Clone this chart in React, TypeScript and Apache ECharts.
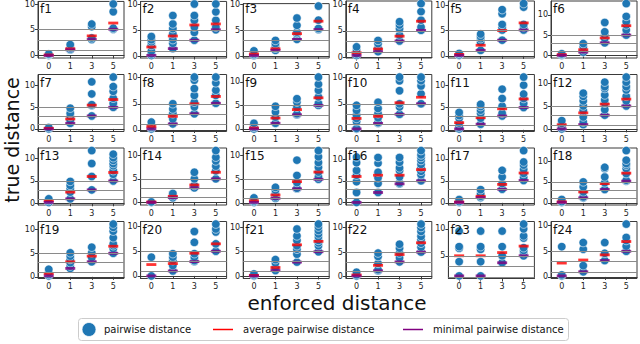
import { useEffect, useRef } from 'react';
import * as echarts from 'echarts';

const categories = ['0', '1', '3', '5'];
const panelNames = ['f1','f2','f3','f4','f5','f6','f7','f8','f9','f10','f11','f12','f13','f14','f15','f16','f17','f18','f19','f20','f21','f22','f23','f24'];
const yTicks = [0, 5, 10];
const enforcedLines = [1, 3, 5];

const pairwiseF1 = [[0, 0.1, 0.2, 0.3], [1.1, 1.2, 1.5, 2.1], [3.1, 3.4, 5.6, 6.1], [5.1, 5.3, 8.5, 10.0]];
const pairwiseF2 = [[0.2, 0.5, 1.0, 2.1, 2.8, 3.2, 3.8], [1.5, 2.5, 3.2, 4.3, 5.3, 6.2, 7.8], [3.1, 4.6, 5.6, 6.9, 7.8, 10.0], [5.1, 5.6, 6.9, 8.5, 10.0]];
const pairwiseF3 = [[0.1, 0.3, 0.6, 1.0], [1.1, 1.5, 2.0, 2.4, 3.0], [3.2, 4.3, 4.6, 5.9, 7.3], [5.1, 5.3, 6.9, 9.6]];
const pairwiseF4 = [[0.4, 0.7, 1.4, 2.0], [1.1, 1.7, 2.6, 3.2], [3.1, 4.2, 5.4, 6.1, 6.7], [5.1, 5.7, 7.0, 8.6, 10.1]];
const pairwiseF5 = [[0.1, 0.2, 0.5], [1.1, 2.7, 3.4, 3.8, 4.3], [3.1, 5.1, 5.6, 6.2, 8.3, 9.1], [5.1, 5.7, 6.2, 9.6, 10.3]];
const pairwiseF6 = [[0, 0.2, 0.4], [0.8, 1.4, 2.1, 2.9], [3.1, 4.2, 5.0, 5.8, 8.1], [5.0, 6.25, 7.5, 8.3, 9.6, 12.75]];
const pairwiseF7 = [[0, 0.3], [1.3, 2.0, 2.9, 3.6, 4.8], [3.0, 5.4, 5.6, 8.1, 10.9], [5.0, 5.9, 7.1, 8.7, 9.8, 12.0]];
const pairwiseF8 = [[0.2, 0.5, 0.8, 1.5], [1.15, 2.1, 3.1, 4.0, 5.0], [3.1, 4.4, 5.3, 6.6, 7.9, 9.5, 10.1], [5.1, 6.6, 7.6, 9.0, 10.1]];
const pairwiseF9 = [[0, 0.35, 0.7, 1.2], [1.2, 2.5, 3.6, 4.8], [3.0, 3.2, 4.6, 5.7, 6.4], [5.0, 5.4, 6.8, 8.2, 9.5, 11.0]];
const pairwiseF10 = [[0.2, 0.3, 1.6, 2.2, 2.8, 3.75, 4.7], [1.25, 1.4, 2.3, 3.1, 4.1, 5.3], [3.0, 4.4, 5.0, 7.5, 9.4, 10.1], [5.0, 6.9, 8.4, 9.4, 10.1]];
const pairwiseF11 = [[0.2, 0.6, 1.5, 2.6, 3.2, 3.9], [1.25, 2.6, 3.7, 4.4, 5.2, 5.7], [3.1, 3.7, 5.3, 7.0, 9.1], [5.0, 5.9, 7.0, 8.0, 10.0, 11.8]];
const pairwiseF12 = [[0.1, 0.5, 1.3, 1.9], [1.05, 1.6, 2.7, 4.1, 5.1, 6.2, 7.2, 7.9], [3.1, 4.3, 5.7, 6.4, 7.5, 8.9, 9.3, 10.3], [5.1, 6.2, 7.2, 8.6, 9.3, 10.3, 11.4]];
const pairwiseF13 = [[0.2, 0.6, 1.0], [1.0, 2.5, 3.3, 4.0, 4.9], [3.0, 6.0, 8.9, 11.8], [5.0, 6.5, 7.3, 8.4, 8.9, 9.6, 10.2, 11.0]];
const pairwiseF14 = [[0, 0.1], [1.0, 1.4, 1.9], [3.1, 3.6, 5.0, 6.4], [5.0, 6.7, 7.7, 8.8, 9.6, 11.0]];
const pairwiseF15 = [[0.15, 0.4, 0.7, 1.1], [1.0, 1.3, 2.0, 2.7, 3.3], [3.0, 3.1, 4.3, 5.8, 9.0], [5.0, 5.5, 6.5, 7.5, 8.5, 9.7, 11.0]];
const pairwiseF16 = [[0, 2.3, 4.8, 6.3, 7.4, 9.2, 10.5], [2.3, 4.4, 5.7, 7.0, 9.1, 10.4], [4.3, 4.5, 5.9, 7.4, 8.0, 9.3, 10.4], [5.0, 6.4, 7.2, 8.0, 8.8, 9.7, 10.4, 11.0, 12.0]];
const pairwiseF17 = [[0.1, 0.3, 0.75], [1.2, 1.5, 2.1, 3.0], [3.1, 4.4, 5.9, 7.4], [5.1, 5.8, 6.7, 7.6, 8.6, 9.3, 11.9]];
const pairwiseF18 = [[0.1, 0.3, 0.8], [1.2, 1.4, 2.6, 3.8, 5.0], [3.2, 4.8, 6.2, 8.2, 8.5], [5.2, 5.4, 7.0, 8.2, 9.0, 9.4, 10.2, 12.5]];
const pairwiseF19 = [[0.2, 0.5, 0.9, 1.6], [1.8, 2.3, 3.0, 3.7, 4.4, 5.1], [3.2, 4.1, 5.1, 6.3], [5.0, 6.0, 6.6, 7.0, 8.3, 9.7, 10.5, 11.2]];
const pairwiseF20 = [[0, 3.8], [1.0, 2.1, 3.1, 3.8, 4.5], [2.9, 3.1, 3.8, 4.5, 6.8, 9.0], [5.0, 6.5, 8.9, 9.5, 10.5]];
const pairwiseF21 = [[0.1, 0.2, 0.5], [1.2, 1.8, 2.7, 3.4], [2.9, 4.5, 5.5, 6.2, 7.3, 8.2, 9.6], [5.0, 6.2, 6.8, 7.3, 8.0, 8.6, 9.3, 10.0, 10.6]];
const pairwiseF22 = [[0.15, 0.4, 0.9], [1.2, 1.4, 2.7, 4.1, 4.8], [3.0, 3.8, 4.8, 5.8, 6.6], [5.0, 6.0, 6.8, 7.5, 8.2, 9.2, 10.0, 10.7]];
const pairwiseF23 = [[1.25, 3.9, 6.4, 6.7, 9.6], [1.25, 3.9, 6.2, 6.7, 9.6], [3.7, 5.0, 6.7, 9.6], [5.0, 5.6, 6.0, 6.5, 8.3, 8.7, 10.0, 10.9]];
const pairwiseF24 = [[0.2, 0.4, 5.9], [1.0, 2.2, 5.4, 6.7], [3.2, 4.6, 6.7], [5.0, 6.0, 7.1, 7.7, 10.3]];

const pairwise = [pairwiseF1, pairwiseF2, pairwiseF3, pairwiseF4, pairwiseF5, pairwiseF6, pairwiseF7, pairwiseF8, pairwiseF9, pairwiseF10, pairwiseF11, pairwiseF12, pairwiseF13, pairwiseF14, pairwiseF15, pairwiseF16, pairwiseF17, pairwiseF18, pairwiseF19, pairwiseF20, pairwiseF21, pairwiseF22, pairwiseF23, pairwiseF24];

const averageDistance = [
  [0.1, 1.3, 3.8, 6.3], [1.8, 3.9, 6.0, 6.2], [0.4, 1.4, 4.3, 6.7], [0.9, 1.6, 4.0, 6.8], [0.3, 2.1, 5.0, 6.5], [0.2, 1.4, 4.3, 7.3],
  [0.15, 2.3, 5.5, 6.8], [0.65, 2.6, 5.0, 6.4], [0.2, 2.3, 4.1, 6.6], [2.2, 2.6, 5.2, 6.25], [1.6, 2.7, 4.7, 6.9], [1.0, 3.6, 5.5, 6.6],
  [0.6, 2.5, 6.0, 6.9], [0.1, 1.3, 3.7, 6.4], [0.5, 1.7, 4.5, 6.5], [6.0, 6.3, 6.3, 7.6], [0.2, 1.5, 4.2, 6.8], [0.25, 2.6, 4.6, 7.1],
  [0.7, 3.2, 4.4, 6.5], [2.3, 2.5, 4.6, 6.5], [0.2, 1.8, 6.4, 7.1], [0.35, 2.3, 4.5, 6.9], [5.0, 5.0, 5.6, 6.8], [2.7, 3.3, 4.3, 6.9],
];

const minimalDistance = [
  [0, 1.1, 3.1, 5.1], [0.2, 1.5, 3.1, 5.1], [0.1, 1.1, 3.2, 5.1], [0.4, 1.1, 3.1, 5.1], [0.1, 1.1, 3.1, 5.1], [0, 0.8, 3.1, 5.0],
  [0, 1.3, 3.0, 5.0], [0.2, 1.15, 3.1, 5.1], [0, 1.2, 3.0, 5.0], [0.2, 1.25, 3.0, 5.0], [0.2, 1.25, 3.1, 5.0], [0.1, 1.05, 3.1, 5.1],
  [0.2, 1.0, 3.0, 5.0], [0, 1.0, 3.1, 5.0], [0.15, 1.0, 3.0, 5.0], [0, 2.3, 4.3, 5.0], [0.1, 1.2, 3.1, 5.1], [0.1, 1.2, 3.2, 5.2],
  [0.2, 1.8, 3.2, 5.0], [0, 1.0, 2.9, 5.0], [0.1, 1.2, 2.9, 5.0], [0.15, 1.2, 3.0, 5.0], [1.25, 1.25, 3.7, 5.0], [0.2, 1.0, 3.2, 5.0],
];

const FONT = 'DejaVu Sans';
const BLUE = '#1f77b4';
const RED = '#ff0000';
const PURPLE = '#800080';

export default function App() {
  const ref = useRef<HTMLDivElement>(null);
  useEffect(() => {
    if (!ref.current) return;
    const chart = echarts.init(ref.current, undefined, { renderer: 'svg' });

    const colLeft0 = 38, colStep = 102.6, w = 86;
    const rowTop0 = 1, rowStep = 73.5, h = 57;

    const grids: any[] = [];
    const xAxes: any[] = [];
    const yAxes: any[] = [];
    const series: any[] = [];
    const titles: any[] = [];

    panelNames.forEach((name, i) => {
      const col = i % 6;
      const row = Math.floor(i / 6);
      const left = colLeft0 + col * colStep;
      const top = rowTop0 + row * rowStep;
      grids.push({ left, top, width: w, height: h, show: true, borderColor: '#3a3a3a', borderWidth: 1, backgroundColor: 'transparent' });

      const all = [...pairwise[i].flat(), ...averageDistance[i], ...minimalDistance[i]];
      const dmin = Math.min(...all);
      const dmax = Math.max(...all);
      const r = dmax - dmin;
      const ymin = dmin - 0.05 * r;
      const ymax = dmax + 0.05 * r;
      const ticks = yTicks.filter((t) => t >= ymin && t <= ymax);

      xAxes.push({
        type: 'category', gridIndex: i, data: categories, boundaryGap: true,
        axisLine: { show: true, lineStyle: { color: '#3a3a3a', width: 1 } },
        axisTick: { show: true, alignWithLabel: true, length: 3, lineStyle: { color: '#3a3a3a' } },
        axisLabel: { fontSize: 8, color: '#222', margin: 4, fontFamily: FONT },
        splitLine: { show: false },
      });
      yAxes.push({
        type: 'value', gridIndex: i, min: ymin, max: ymax,
        axisLine: { show: true, lineStyle: { color: '#3a3a3a', width: 1 } },
        axisTick: { show: true, length: 3, customValues: ticks, lineStyle: { color: '#3a3a3a' } },
        axisLabel: { fontSize: 8, color: '#222', margin: 3, fontFamily: FONT, customValues: ticks },
        splitLine: { show: false },
      });

      series.push({
        type: 'scatter', xAxisIndex: i, yAxisIndex: i, data: [], z: 1, silent: true,
        markLine: {
          silent: true, symbol: 'none', animation: false,
          label: { show: false },
          lineStyle: { color: '#8a8a8a', width: 1, type: 'solid' },
          emphasis: { disabled: true },
          data: enforcedLines.map((v) => ({ yAxis: v })),
        },
      });
      series.push({
        name: 'pairwise distance', type: 'scatter', xAxisIndex: i, yAxisIndex: i, z: 2, silent: true,
        symbol: 'circle', symbolSize: 8.5,
        itemStyle: { color: BLUE, borderColor: 'rgba(255,255,255,0.75)', borderWidth: 0.8, opacity: 1 },
        data: pairwise[i].flatMap((vals, c) => vals.map((v) => [c, v])),
      });
      series.push({
        name: 'average pairwise distance', type: 'scatter', xAxisIndex: i, yAxisIndex: i, z: 3, silent: true,
        symbol: 'rect', symbolSize: [10, 2.8],
        itemStyle: { color: RED },
        data: averageDistance[i].map((v, c) => [c, v]),
      });
      series.push({
        name: 'minimal pairwise distance', type: 'scatter', xAxisIndex: i, yAxisIndex: i, z: 4, silent: true,
        symbol: 'rect', symbolSize: [10, 2.8],
        itemStyle: { color: PURPLE },
        data: minimalDistance[i].map((v, c) => [c, v]),
      });

      titles.push({
        text: name, left: left + 2, top: top + 2, padding: 0,
        textStyle: { fontSize: 12, fontWeight: 'normal', color: '#111', fontFamily: FONT },
      });
    });

    const legendY = 329.5;
    const graphic: any[] = [
      { type: 'text', x: 12, y: 140, rotation: Math.PI / 2, style: { text: 'true distance', fontSize: 19, fontFamily: FONT, fill: '#111', align: 'center', verticalAlign: 'middle' } },
      { type: 'text', x: 337, y: 303, style: { text: 'enforced distance', fontSize: 20, fontFamily: FONT, fill: '#111', align: 'center', verticalAlign: 'middle' } },
      { type: 'rect', shape: { x: 78.5, y: 318.5, width: 490, height: 22, r: 3 }, style: { fill: '#fff', stroke: '#cccccc', lineWidth: 1 } },
      { type: 'circle', shape: { cx: 89, cy: legendY, r: 7 }, style: { fill: BLUE, stroke: 'rgba(255,255,255,0.75)', lineWidth: 1 } },
      { type: 'text', x: 104, y: legendY, style: { text: 'pairwise distance', fontSize: 10, fontFamily: FONT, fill: '#111', verticalAlign: 'middle' } },
      { type: 'line', shape: { x1: 213, y1: legendY, x2: 233, y2: legendY }, style: { stroke: RED, lineWidth: 1.5 } },
      { type: 'text', x: 243, y: legendY, style: { text: 'average pairwise distance', fontSize: 10, fontFamily: FONT, fill: '#111', verticalAlign: 'middle' } },
      { type: 'line', shape: { x1: 403, y1: legendY, x2: 423, y2: legendY }, style: { stroke: PURPLE, lineWidth: 1.5 } },
      { type: 'text', x: 433, y: legendY, style: { text: 'minimal pairwise distance', fontSize: 10, fontFamily: FONT, fill: '#111', verticalAlign: 'middle' } },
    ];

    chart.setOption({
      animation: false,
      backgroundColor: '#fff',
      textStyle: { fontFamily: FONT },
      title: titles,
      grid: grids,
      xAxis: xAxes,
      yAxis: yAxes,
      series,
      graphic,
    });
    return () => chart.dispose();
  }, []);
  return <div ref={ref} style={{ position: 'fixed', left: 0, top: 0, width: 640, height: 344 }} />;
}
